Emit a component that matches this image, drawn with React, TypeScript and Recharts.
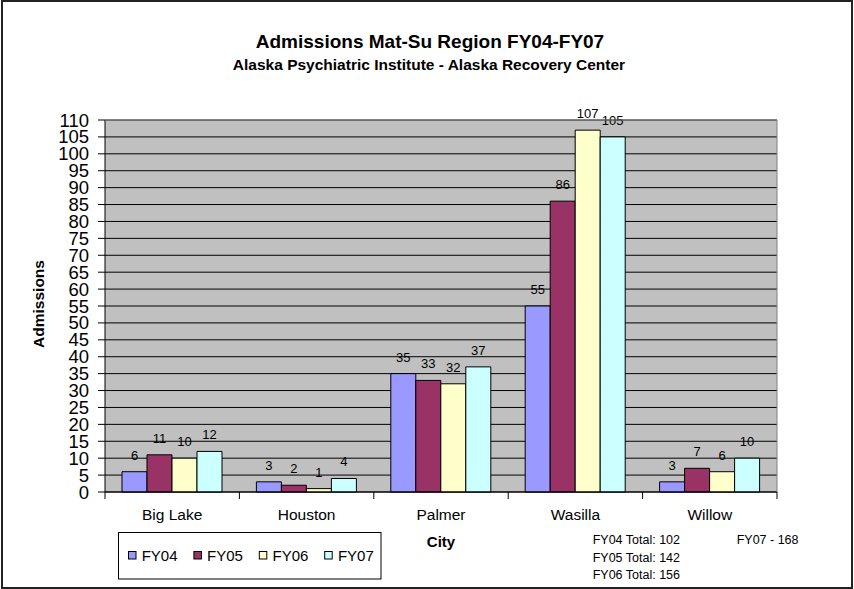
import React from 'react';
import { BarChart, Bar, XAxis, YAxis, CartesianGrid, LabelList } from 'recharts';

const cities = ['Big Lake', 'Houston', 'Palmer', 'Wasilla', 'Willow'];
const fy04 = [6, 3, 35, 55, 3];
const fy05 = [11, 2, 33, 86, 7];
const fy06 = [10, 1, 32, 107, 6];
const fy07 = [12, 4, 37, 105, 10];
const yTicks = [0, 5, 10, 15, 20, 25, 30, 35, 40, 45, 50, 55, 60, 65, 70, 75, 80, 85, 90, 95, 100, 105, 110];
const seriesNames = ['FY04', 'FY05', 'FY06', 'FY07'];
const seriesColors = ['#9999FF', '#993366', '#FFFFCC', '#CCFFFF'];
const totalsLines = ['FY04 Total: 102', 'FY05 Total: 142', 'FY06 Total: 156'];
const totalsRight = 'FY07 - 168';

const data = cities.map((c, i) => ({ city: c, FY04: fy04[i], FY05: fy05[i], FY06: fy06[i], FY07: fy07[i] }));

const FONT = '"Liberation Sans", Arial, sans-serif';

const CityTick = (props: any) => {
  const { x, y, payload, index } = props;
  const off = payload && payload.offset ? payload.offset : 67.2;
  return (
    <g>
      <line x1={x - off} x2={x - off} y1={y - 7} y2={y} stroke="#000" />
      {index === cities.length - 1 && <line x1={x + off} x2={x + off} y1={y - 7} y2={y} stroke="#000" />}
      <text x={x} y={y} dy={20.5} textAnchor="middle" fontSize={15.5} fill="#000" fontFamily={FONT}>
        {payload.value}
      </text>
    </g>
  );
};

export default function App() {
  return (
    <div style={{ position: 'relative', width: 854, height: 589, background: '#fff', fontFamily: FONT }}>
      <style>{`body{margin:0}`}</style>
      <BarChart
        width={854}
        height={589}
        data={data}
        margin={{ top: 120, right: 77, bottom: 57, left: 45 }}
        barGap={0}
        barSize={25}
      >
        <CartesianGrid vertical={false} stroke="#000" fill="#C0C0C0" fillOpacity={1} />
        <XAxis
          dataKey="city"
          height={40}
          axisLine={{ stroke: '#000' }}
          tickLine={false}
          tickSize={7}
          tickMargin={0}
          tick={<CityTick />}
          interval={0}
        />
        <YAxis
          width={60}
          domain={[0, 110]}
          ticks={yTicks}
          interval={0}
          axisLine={{ stroke: '#000' }}
          tickLine={{ stroke: '#000' }}
          tickSize={7}
          tickMargin={9}
          tick={{ fontSize: 18.5, fill: '#000', fontFamily: FONT }}
        />
        {seriesNames.map((s, i) => (
          <Bar key={s} dataKey={s} fill={seriesColors[i]} stroke="#000" strokeWidth={1} isAnimationActive={false}>
            <LabelList dataKey={s} position="top" offset={12} fontSize={13} fill="#000" fontFamily={FONT} />
          </Bar>
        ))}
      </BarChart>
      <svg width={854} height={589} style={{ position: 'absolute', left: 0, top: 0, pointerEvents: 'none' }}>
        <rect x={2} y={1} width={850} height={587} fill="none" stroke="#222" strokeWidth={2} />
        <line x1={105} x2={777} y1={120} y2={120} stroke="#808080" />
        <line x1={777} x2={777} y1={120} y2={492} stroke="#808080" />
        <text x={430} y={48} textAnchor="middle" fontSize={19} fontWeight="bold" fontFamily={FONT} fill="#000">
          Admissions Mat-Su Region FY04-FY07
        </text>
        <text x={429} y={70} textAnchor="middle" fontSize={15.5} fontWeight="bold" fontFamily={FONT} fill="#000">
          Alaska Psychiatric Institute - Alaska Recovery Center
        </text>
        <text
          x={43.5}
          y={304}
          textAnchor="middle"
          transform="rotate(-90 43.5 304)"
          fontSize={15.5}
          fontWeight="bold"
          fontFamily={FONT}
          fill="#000"
        >
          Admissions
        </text>
        <text x={441} y={547} textAnchor="middle" fontSize={15} fontWeight="bold" fontFamily={FONT} fill="#000">
          City
        </text>
        {totalsLines.map((t, i) => (
          <text key={t} x={592.7} y={544 + i * 17.5} fontSize={12.5} fontFamily={FONT} fill="#000">
            {t}
          </text>
        ))}
        <text x={736.7} y={544} fontSize={12.5} fontFamily={FONT} fill="#000">
          {totalsRight}
        </text>
        <rect x={118.5} y={532.5} width={262.5} height={46.5} fill="#fff" stroke="#000" strokeWidth={1} />
        {seriesNames.map((s, i) => (
          <g key={s}>
            <rect x={128.5 + i * 65.4} y={551.5} width={7.5} height={7.5} fill={seriesColors[i]} stroke="#000" strokeWidth={1} />
            <text x={141.7 + i * 65.4} y={560.7} fontSize={15} fontFamily={FONT} fill="#000">
              {s}
            </text>
          </g>
        ))}
      </svg>
    </div>
  );
}
